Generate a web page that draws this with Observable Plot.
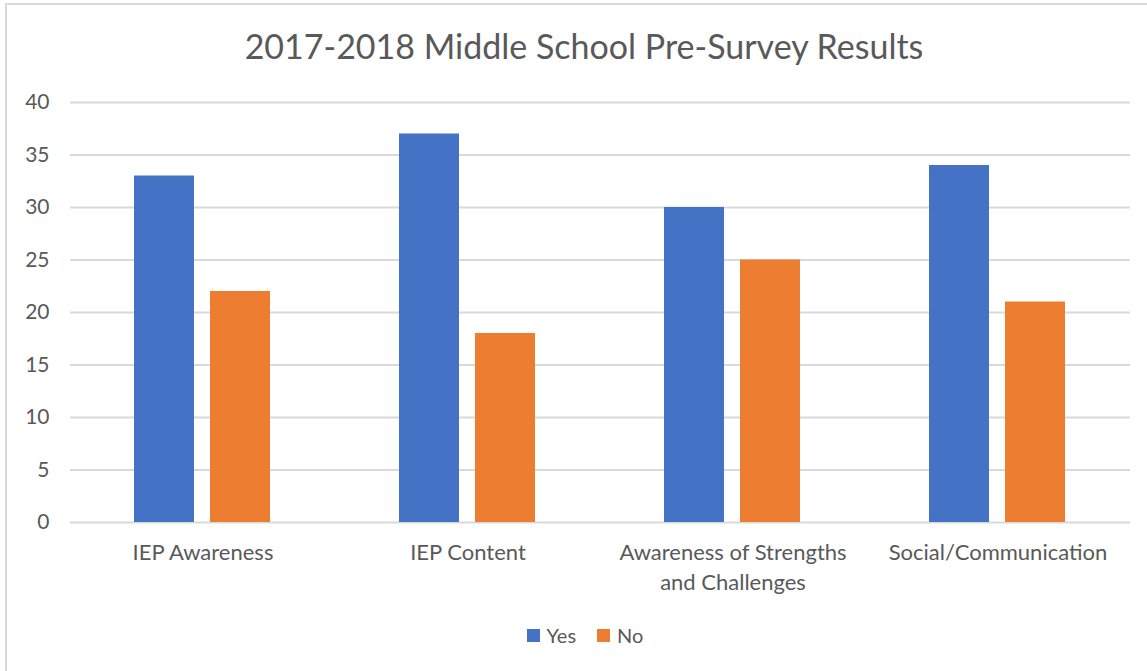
<!DOCTYPE html>
<html>
<head>
<meta charset="utf-8">
<script src="https://cdn.jsdelivr.net/npm/d3@7"></script>
<script src="https://cdn.jsdelivr.net/npm/@observablehq/plot@0.6"></script>
<style>
  html, body { margin: 0; padding: 0; background: #fff; }
  body { width: 1147px; height: 671px; overflow: hidden; position: relative; font-family: Lato, "Open Sans", sans-serif; }
  #frame { position: absolute; left: 5px; top: 3px; width: 1300px; height: 800px; border-left: 2px solid #d9d9d9; border-top: 2px solid #d9d9d9; }
  #title { position: absolute; left: 0; width: 1168px; top: 25px; text-align: center; font-size: 34px; color: #595959; }
  #chart { position: absolute; left: 0; top: 0; }
  #legend { position: absolute; top: 623px; left: 0; width: 1170px; display: flex; justify-content: center; gap: 21px; font-size: 20px; color: #595959; }
  .item { display: flex; align-items: center; gap: 7px; }
  .sw { width: 13px; height: 13px; display: inline-block; }
</style>
</head>
<body>
<div id="frame"></div>
<div id="title">2017-2018 Middle School Pre-Survey Results</div>
<div id="chart"></div>
<div id="legend"></div>
<script>
const categories = ["IEP Awareness", "IEP Content", "Awareness of Strengths\nand Challenges", "Social/Communication"];
const series = ["Yes", "No"];
const yesValues = [33, 37, 30, 34];
const noValues = [22, 18, 25, 21];
const yTicks = [0, 5, 10, 15, 20, 25, 30, 35, 40];
const colors = ["#4472C4", "#ED7D31"];

const data = [];
categories.forEach((c, i) => {
  data.push({category: c, series: "Yes", value: yesValues[i]});
  data.push({category: c, series: "No", value: noValues[i]});
});

const plot = Plot.plot({
  width: 1147,
  height: 671,
  marginLeft: 69,
  marginRight: 17,
  marginTop: 102,
  marginBottom: 149,
  style: {fontFamily: "Lato, 'Open Sans', sans-serif", background: "transparent", color: "#595959"},
  fx: {domain: categories, padding: 0, label: null},
  x: {domain: series, paddingInner: 0.2105, paddingOuter: 0.847, axis: null},
  y: {domain: [0, 40], label: null},
  color: {domain: series, range: colors},
  marks: [
    Plot.gridY(yTicks, {stroke: "#d9d9d9", strokeOpacity: 1, strokeWidth: 2}),
    Plot.barY(data, {fx: "category", x: "series", y: "value", fill: "series"}),
    Plot.axisY(yTicks, {tickSize: 0, tickPadding: 21, fontSize: 21, fill: "#595959", label: null}),
    Plot.axisFx({anchor: "bottom", tickSize: 0, tickPadding: 16, fontSize: 22, fill: "#595959", lineHeight: 1.37, label: null})
  ]
});
document.getElementById("chart").appendChild(plot);

const legend = document.getElementById("legend");
series.forEach((s, i) => {
  const item = document.createElement("div");
  item.className = "item";
  item.innerHTML = `<span class="sw" style="background:${colors[i]}"></span><span>${s}</span>`;
  legend.appendChild(item);
});
</script>
</body>
</html>
